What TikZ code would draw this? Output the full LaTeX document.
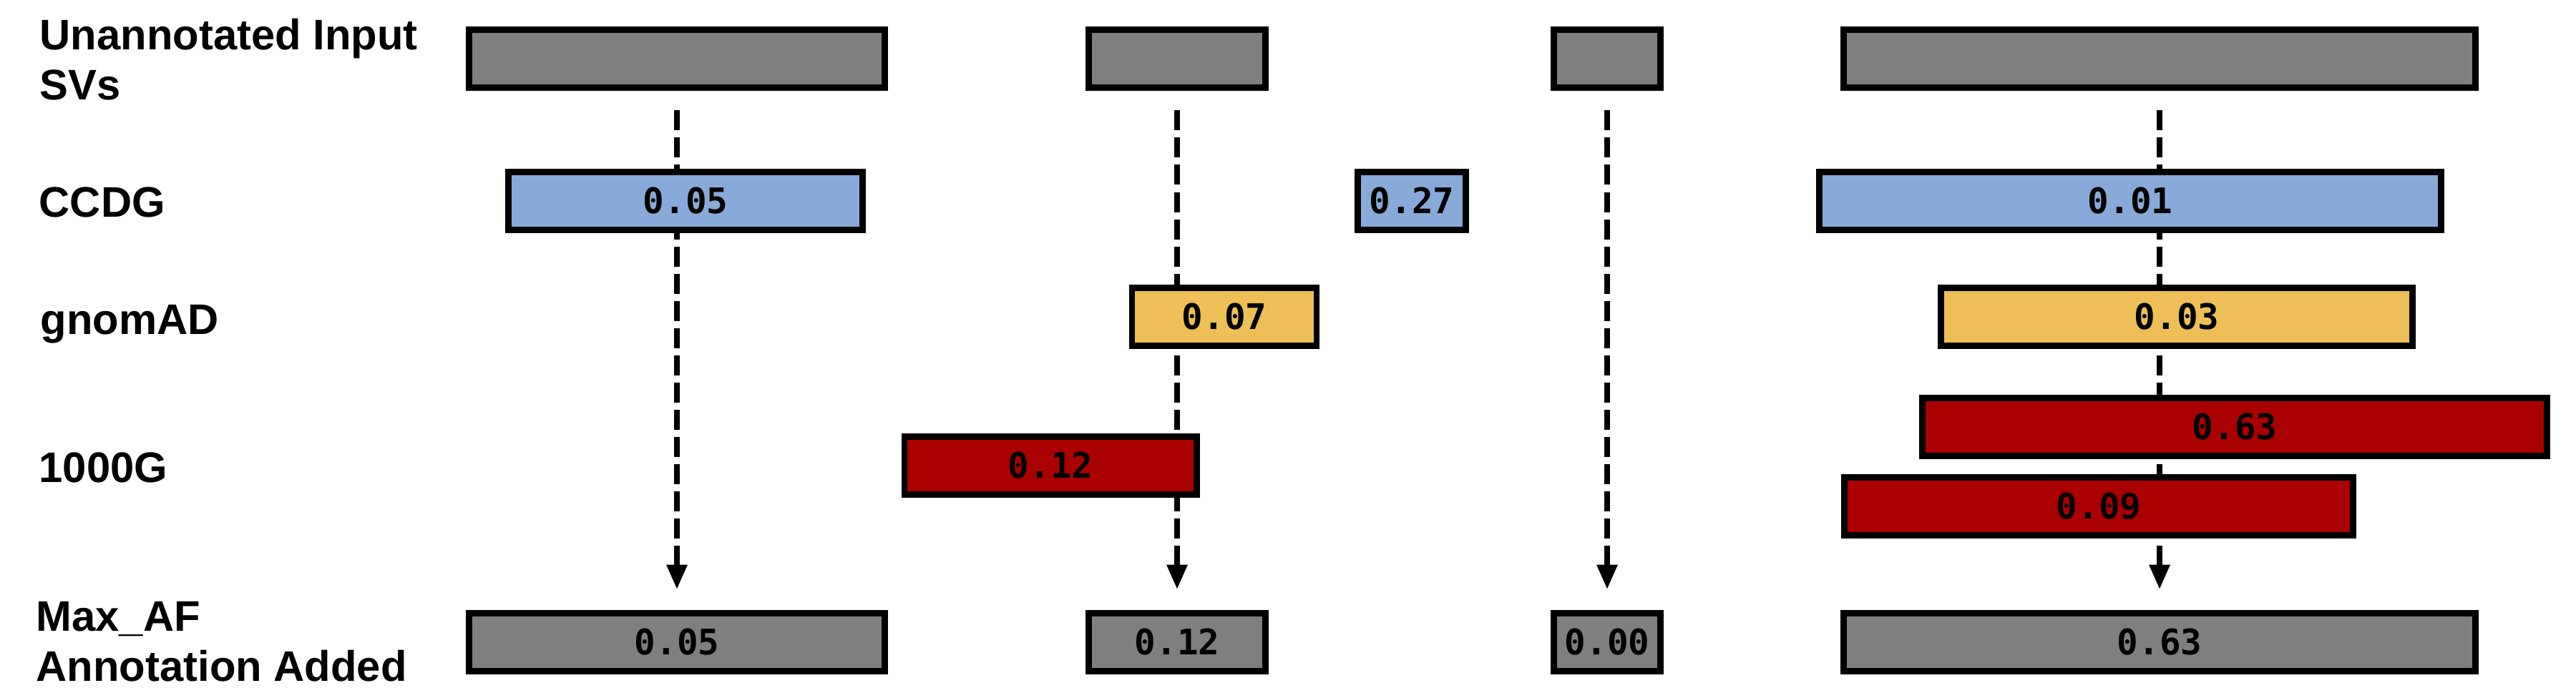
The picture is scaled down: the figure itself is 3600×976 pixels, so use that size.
\documentclass[tikz,border=0pt]{standalone}
\usepackage{fontspec}
\usepackage{tikz}
\usetikzlibrary{arrows.meta, backgrounds}
\setmainfont{Liberation Sans}
\newfontfamily\afmono{DejaVu Sans Mono}
\definecolor{svgrey}{HTML}{7F7F7F}
\definecolor{ccdgblue}{HTML}{88AAD8}
\definecolor{gnomadgold}{HTML}{EDBF56}
\definecolor{kgred}{HTML}{AA0000}

\begin{document}
\begin{tikzpicture}[x=0.01cm, y=-0.01cm,
    svbox/.style={draw=black, line width=2.5pt, minimum height=0.81cm, inner sep=0pt,
      font=\afmono\bfseries\fontsize{14}{16}\selectfont},
    rowlabel/.style={inner sep=0pt, align=left, font=\bfseries\fontsize{17}{19.9}\selectfont},
    flowarrow/.style={line width=2.5pt, dash pattern=on 0.28cm off 0.1cm,
      -{Triangle[length=0.35cm, width=0.27cm]}}]
    \useasboundingbox (0,0) rectangle (3600,976);
    % Row labels
    \node[rowlabel, anchor=north west] (lblin) at (55,25) {Unannotated Input\\SVs};
    \node[rowlabel, anchor=base west] (lblccdg) at (54,304) {CCDG};
    \node[rowlabel, anchor=base west] (lblgnomad) at (56,467) {gnomAD};
    \node[rowlabel, anchor=base west] (lblkg) at (54,674) {1000G};
    \node[rowlabel, anchor=north west] (lblout) at (50,841) {Max\_AF\\Annotation Added};
    % Unannotated input SVs
    \node[svbox, fill=svgrey, minimum width=5.81cm] (inA) at (946,82) {};
    \node[svbox, fill=svgrey, minimum width=2.47cm] (inB) at (1645,82) {};
    \node[svbox, fill=svgrey, minimum width=1.49cm] (inC) at (2246,82) {};
    \node[svbox, fill=svgrey, minimum width=8.82cm] (inD) at (3018,82) {};
    % CCDG
    \node[svbox, fill=ccdgblue, minimum width=4.95cm] (ccdgA) at (958,281) {0.05};
    \node[svbox, fill=ccdgblue, minimum width=1.51cm] (ccdgC) at (1973,281) {0.27};
    \node[svbox, fill=ccdgblue, minimum width=8.68cm] (ccdgD) at (2977,281) {0.01};
    % gnomAD
    \node[svbox, fill=gnomadgold, minimum width=2.58cm] (gnomB) at (1711,443) {0.07};
    \node[svbox, fill=gnomadgold, minimum width=6.58cm] (gnomD) at (3042,443) {0.03};
    % 1000G
    \node[svbox, fill=kgred, minimum width=4.08cm] (kgB) at (1468,651) {0.12};
    \node[svbox, fill=kgred, minimum width=8.73cm] (kgDa) at (3123,597) {0.63};
    \node[svbox, fill=kgred, minimum width=7.11cm] (kgDb) at (2933,708) {0.09};
    % Max_AF annotation added
    \node[svbox, fill=svgrey, minimum width=5.81cm] (outA) at (946,898) {0.05};
    \node[svbox, fill=svgrey, minimum width=2.47cm] (outB) at (1645,898) {0.12};
    \node[svbox, fill=svgrey, minimum width=1.49cm] (outC) at (2246,898) {0.00};
    \node[svbox, fill=svgrey, minimum width=8.82cm] (outD) at (3018,898) {0.63};
    % Arrows behind the boxes
    \begin{scope}[on background layer]
      \foreach \col in {A,B,C,D}
        \draw[flowarrow] ([yshift=-0.275cm]in\col.south) -- ([yshift=0.285cm]out\col.north);
    \end{scope}
\end{tikzpicture}
\end{document}
